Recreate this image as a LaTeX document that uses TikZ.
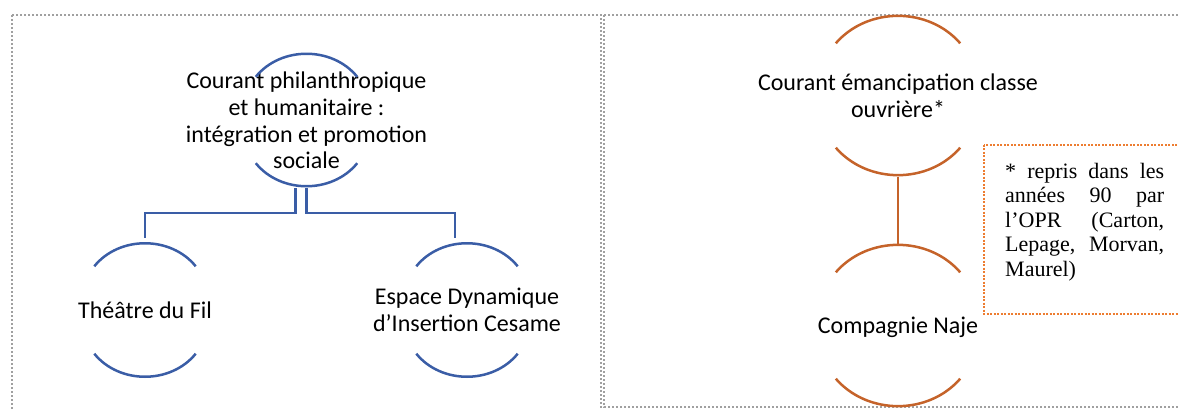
\documentclass[tikz,border=0pt]{standalone}
\usepackage{fontspec}
\setmainfont{Carlito}
\newfontfamily\notefont{Liberation Serif}
\usepackage{tikz}

\definecolor{smartblue}{HTML}{3A5DA6}
\definecolor{smartorange}{HTML}{C5632A}
\definecolor{noteorange}{HTML}{ED7D31}
\definecolor{framegray}{HTML}{A0A0A0}

\begin{document}
\begin{tikzpicture}[x=1pt,y=-1pt,
	bluearc/.style={smartblue,line width=2.5pt},
	orangearc/.style={smartorange,line width=2.5pt},
	ringb/.style={inner sep=0pt,minimum width=101pt,minimum height=135pt},
	ringo/.style={inner sep=0pt,minimum width=124pt,minimum height=161pt},
	ringtext/.style={font=\fontsize{24}{26.7}\selectfont,align=center,inner sep=0pt},
	docframe/.style={framegray,line width=2pt,dash pattern=on 2pt off 2pt},
	notebox/.style={noteorange,line width=2pt,dash pattern=on 2pt off 1.5pt},
	notetext/.style={font=\notefont\fontsize{22}{24.4}\selectfont,text width=159pt,align=justify,inner sep=0pt}]
	\useasboundingbox (0,0) rectangle (1178,409);
	% page frames
	\draw[docframe] (12,15) rectangle (601,425);
	\draw[docframe] (604,15) rectangle (1195,407);
	% blue hierarchy
	\node[ringb] (phil) at (306.5,120.5) {};
	\node[ringb] (fil) at (145,310) {};
	\node[ringb] (cesame) at (467,310) {};
	\node[ringtext] (phil-t) at (phil) {Courant philanthropique\\et humanitaire :\\intégration et promotion\\sociale};
	\node[ringtext] (fil-t) at (fil) {Théâtre du Fil};
	\node[ringtext] (cesame-t) at (cesame) {Espace Dynamique\\d’Insertion Cesame};
	\draw[bluearc] ([yshift=-24pt]phil.north west) to[bend left=51] ([yshift=-24pt]phil.north east);
	\draw[bluearc] ([yshift=25pt]phil.south west) to[bend right=51] ([yshift=25pt]phil.south east);
	\draw[bluearc] ([yshift=-24pt]fil.north west) to[bend left=51] ([yshift=-24pt]fil.north east);
	\draw[bluearc] ([yshift=24pt]fil.south west) to[bend right=51] ([yshift=24pt]fil.south east);
	\draw[bluearc] ([yshift=-24pt]cesame.north west) to[bend left=51] ([yshift=-24pt]cesame.north east);
	\draw[bluearc] ([yshift=24pt]cesame.south west) to[bend right=51] ([yshift=24pt]cesame.south east);
	\draw[bluearc] ([xshift=-11pt]phil.south) -- ++(0,25) -| ([yshift=4pt]fil.north);
	\draw[bluearc] (phil.south) -- ++(0,25) -| ([xshift=-12pt,yshift=4pt]cesame.north);
	% orange chain
	\node[ringo] (emancip) at (898,96) {};
	\node[ringo] (naje) at (898,325) {};
	\node[ringtext] (emancip-t) at (emancip) {Courant émancipation classe\\ouvrière*};
	\node[ringtext] (naje-t) at ([yshift=-2pt]naje) {Compagnie Naje};
	\draw[orangearc] ([yshift=-28pt]emancip.north west) to[bend left=49] ([yshift=-28pt]emancip.north east);
	\draw[orangearc] ([yshift=29pt]emancip.south west) to[bend right=49] ([yshift=29pt]emancip.south east);
	\draw[orangearc] ([yshift=-28pt]naje.north west) to[bend left=49] ([yshift=-28pt]naje.north east);
	\draw[orangearc] ([yshift=27pt]naje.south west) to[bend right=49] ([yshift=27pt]naje.south east);
	\draw[orangearc] (emancip.south) -- (naje.north);
	% footnote box
	\draw[notebox] (984,145) rectangle (1195,314);
	\node[notetext,anchor=north west] (note) at (1005,163) {* repris dans les\linebreak années 90 par\linebreak l’OPR (Carton,\linebreak Lepage, Morvan,\linebreak Maurel)};
\end{tikzpicture}
\end{document}
